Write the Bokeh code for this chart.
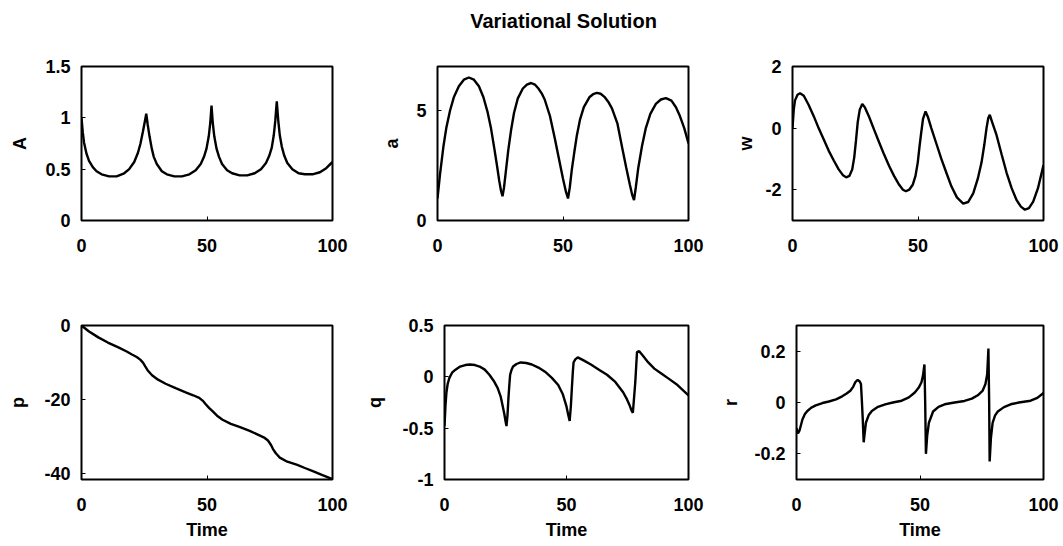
from bokeh.plotting import figure
from bokeh.layouts import column, row
from bokeh.models import Range1d, FixedTicker, CustomJSTickFormatter
from bokeh.core.properties import value
from bokeh.embed import file_html
from bokeh.resources import INLINE

FONT = "Liberation Sans"

title_text = "Variational Solution"
x_label = "Time"
x_ticks = [0, 50, 100]

# ---- data ----
A_t = [0, 0.5, 1, 2, 3, 4.5, 6, 8, 11, 14, 17, 19, 21, 22.5, 23.5, 24.5, 25.2, 25.8, 26.4, 27.1, 28, 28.8, 30, 32, 34,
       37, 40, 43, 45.5, 47.5, 48.8, 49.8, 50.7, 51.3, 51.8, 52.3, 52.9, 53.8, 54.8, 56, 58, 60, 63, 66, 69, 71.5,
       73.5, 74.8, 75.8, 76.6, 77.2, 77.8, 78.4, 79, 79.8, 80.8, 82, 84, 86.5, 89, 92, 95, 97.5, 100]
A_v = [1.00, 0.86, 0.76, 0.65, 0.58, 0.52, 0.48, 0.45, 0.43, 0.43, 0.46, 0.50, 0.57, 0.66, 0.75, 0.87, 0.96, 1.04, 0.93, 0.82, 0.70, 0.62, 0.55, 0.48, 0.45,
       0.43, 0.43, 0.45, 0.49, 0.55, 0.62, 0.70, 0.82, 0.95, 1.12, 0.95, 0.82, 0.70, 0.62, 0.55, 0.49, 0.46, 0.44, 0.44, 0.46, 0.50,
       0.56, 0.63, 0.71, 0.83, 0.97, 1.16, 0.97, 0.83, 0.72, 0.63, 0.56, 0.50, 0.46, 0.45, 0.45, 0.47, 0.51, 0.57]

a_t = [0, 1, 2.4, 3.5, 5, 6.5, 8.5, 10.5, 12.5, 14.5, 16.5, 18.3, 19.9, 21.3, 22.6, 23.7, 24.6, 25.3, 25.9, 26.5, 27.2,
       28.2, 29.3, 30.5, 32, 34, 35.6, 37.3, 38.8, 40.2, 41.5, 42.7, 44.8, 46.7, 48.4, 50, 51.2, 52, 52.7, 53.5, 54.5,
       55.5, 56.8, 58.3, 60.5, 62, 63.5, 65, 66.5, 68, 69.5, 71.7, 73.6, 75.2, 76.6, 77.6, 78.3, 79, 80, 81.5, 83, 84.8,
       87, 89, 91, 93.2, 95, 96.4, 98.3, 100]
a_v = [1.0, 2.1, 3.4, 4.2, 5.0, 5.6, 6.1, 6.4, 6.5, 6.4, 6.1, 5.6, 4.95, 4.2, 3.3, 2.5, 1.8, 1.35, 1.1, 1.5, 2.2,
       3.2, 4.1, 4.9, 5.55, 6.0, 6.18, 6.25, 6.18, 6.0, 5.78, 5.5, 4.75, 3.75, 2.8, 1.9, 1.3, 1.0, 1.5, 2.3, 3.1,
       3.85, 4.6, 5.15, 5.6, 5.74, 5.8, 5.76, 5.62, 5.4, 5.1, 4.4, 3.3, 2.4, 1.65, 1.15, 0.93, 1.5, 2.4, 3.4, 4.2, 4.85,
       5.3, 5.5, 5.56, 5.45, 5.15, 4.8, 4.2, 3.5]

w_t = [0, 0.5, 1, 2, 3, 4.5, 6.4, 8.5, 10.4, 12.5, 14.4, 16.5, 18.4, 20, 21.4, 22.7, 23.8, 24.6, 25.3, 26, 26.8,
       27.8, 28.8, 30.5, 32.5, 34.5, 36.5, 38.5, 40.5, 42.5, 44, 45.2, 46.5, 47.9, 49, 49.9, 50.6, 51.2, 52, 53, 54,
       55.3, 57.3, 59.3, 61.3, 63.3, 65.5, 68, 70, 72, 73.8, 75.3, 76.4, 77.3, 78, 78.6, 79.5, 81.3, 83.3, 85.3, 87.3,
       89.3, 91, 92.6, 94.2, 95.9, 97.8, 100]
w_v = [0.0, 0.6, 0.9, 1.08, 1.13, 1.05, 0.76, 0.38, 0.0, -0.38, -0.73, -1.06, -1.34, -1.52, -1.6, -1.55, -1.34, -0.95, -0.4, 0.2, 0.6,
       0.78, 0.68, 0.37, -0.05, -0.46, -0.86, -1.23, -1.56, -1.84, -2.0, -2.05, -2.0, -1.84, -1.55, -1.12, -0.6, -0.2, 0.3, 0.54, 0.35,
       0.0, -0.5, -1.0, -1.45, -1.89, -2.25, -2.45, -2.4, -2.12, -1.65, -1.12, -0.55, 0.0, 0.33, 0.43, 0.2, -0.23, -0.85, -1.45, -1.95,
       -2.34, -2.55, -2.65, -2.6, -2.39, -1.95, -1.2]

p_t = [0, 3, 6.7, 10.5, 14.7, 18, 20.1, 22, 23.4, 24.5, 25.4, 26.5, 28.1, 30.5, 33.5, 37.5, 41.5, 44.5, 46.9, 48.5,
       49.5, 50.8, 52.2, 54, 56.2, 59.5, 62.9, 67, 70.9, 73, 74.3, 75.5, 76.3, 77.5, 79, 82, 85.7, 89, 92.4, 96, 100]
p_v = [0, -1.6, -3.2, -4.6, -5.9, -7.0, -7.8, -8.5, -9.2, -10.0, -11.0, -12.2, -13.4, -14.6, -15.7, -16.9, -18.0, -18.8, -19.5, -20.4,
       -21.2, -22.2, -23.1, -24.3, -25.4, -26.5, -27.3, -28.4, -29.6, -30.3, -31.0, -32.2, -33.3, -34.5, -35.6, -36.7, -37.5, -38.4, -39.3, -40.3, -41.4]

q_t = [0, 0.4, 0.8, 1.3, 2, 3.1, 4.5, 6.4, 8.5, 10.4, 12.5, 14.4, 16.5, 18.4, 20.2, 21.8, 23, 23.8, 24.5, 25, 25.4,
       25.8, 26.2, 26.6, 26.9, 27.5, 28.1, 29.5, 31.2, 33.5, 35.8, 38.5, 41.2, 44, 46.6, 48.5, 49.9, 50.7, 51.3, 51.8,
       52.2, 52.6, 52.9, 53.6, 54.6, 57, 60, 63.3, 66.6, 70, 73.2, 74.8, 75.9, 76.7, 77.2, 77.7, 78.2, 78.6, 78.9, 79.8,
       81.5, 83.5, 86, 89, 92, 95.5, 100]
q_v = [-0.48, -0.28, -0.15, -0.07, -0.01, 0.04, 0.07, 0.10, 0.115, 0.12, 0.115, 0.10, 0.07, 0.02, -0.04, -0.11, -0.19, -0.28, -0.36, -0.43, -0.48,
       -0.38, -0.21, -0.07, 0.02, 0.07, 0.10, 0.125, 0.14, 0.135, 0.12, 0.09, 0.05, -0.01, -0.08, -0.17, -0.28, -0.37, -0.43, -0.28,
       -0.11, 0.05, 0.14, 0.17, 0.19, 0.16, 0.12, 0.07, 0.02, -0.05, -0.15, -0.22, -0.28, -0.33, -0.35, -0.2, -0.05, 0.12, 0.24, 0.25,
       0.20, 0.14, 0.08, 0.03, -0.02, -0.08, -0.18]

r_t = [0, 0.6, 1.2, 2.4, 3.4, 4.4, 6, 7.8, 10.5, 13.1, 16, 18.5, 20.3, 21.8, 23, 23.8, 24.8, 25.6, 26.1, 26.5, 26.8,
       27.2, 27.6, 28.1, 29.2, 30.5, 33, 35.9, 39, 42.6, 45.5, 47.9, 49.5, 50.6, 51.2, 51.8, 52.1, 52.4, 52.9, 53.6,
       55.3, 57.5, 60, 64, 68, 71, 73.4, 75.3, 76.5, 77.2, 77.7, 78.0, 78.2, 78.7, 79.4, 80.4, 81.5, 84, 86.7, 90, 94.8,
       97.5, 100]
r_v = [-0.10, -0.12, -0.11, -0.066, -0.045, -0.033, -0.02, -0.011, -0.002, 0.004, 0.012, 0.024, 0.035, 0.046, 0.062, 0.079, 0.088, 0.082, 0.072, 0.0, -0.06,
       -0.155, -0.12, -0.079, -0.05, -0.033, -0.017, -0.007, 0.0, 0.007, 0.02, 0.039, 0.058, 0.079, 0.105, 0.148, 0.0, -0.2, -0.13, -0.079,
       -0.035, -0.017, -0.007, 0.0, 0.006, 0.015, 0.028, 0.045, 0.072, 0.11, 0.21, 0.0, -0.23, -0.14, -0.079, -0.05, -0.035, -0.018, -0.007, 0.0, 0.007,
       0.018, 0.037]

panels = [
    dict(label="A", t=A_t, v=A_v, ylim=(0, 1.5), yticks=[0, 0.5, 1, 1.5], standoff=12),
    dict(label="a", t=a_t, v=a_v, ylim=(0, 7), yticks=[0, 5], standoff=11),
    dict(label="w", t=w_t, v=w_v, ylim=(-3, 2), yticks=[-2, 0, 2], standoff=6),
    dict(label="p", t=p_t, v=p_v, ylim=(-41.5, 0), yticks=[-40, -20, 0], standoff=13),
    dict(label="q", t=q_t, v=q_v, ylim=(-1, 0.5), yticks=[-1, -0.5, 0, 0.5], standoff=14),
    dict(label="r", t=r_t, v=r_v, ylim=(-0.3, 0.3), yticks=[-0.2, 0, 0.2], standoff=10),
]

# ---- layout geometry (pixels) ----
col_w = [362, 356, 344]
col_left = [81, 75, 74]
col_right = [30, 30, 19]
row_h = [238, 265]
row_top = [24, 45]
row_bottom = [60, 66]
TICK_FS = "18px"
LABEL_FS = "18px"


def style_axis(ax, ticks, standoff):
    ax.ticker = FixedTicker(ticks=ticks)
    ax.formatter = CustomJSTickFormatter(code="return tick.toString();")
    ax.major_label_text_font = FONT
    ax.major_label_text_font_style = "bold"
    ax.major_label_text_font_size = TICK_FS
    ax.major_label_text_color = "black"
    ax.major_label_standoff = standoff
    ax.major_tick_in = 4
    ax.major_tick_out = 0
    ax.major_tick_line_color = "black"
    ax.minor_tick_line_color = None
    ax.axis_line_color = None
    ax.axis_label_text_font = FONT
    ax.axis_label_text_font_style = "bold"
    ax.axis_label_text_font_size = LABEL_FS
    ax.axis_label_text_color = "black"


def make_panel(i, pan):
    r, c = divmod(i, 3)
    f = figure(width=col_w[c], height=row_h[r],
               x_range=Range1d(0, 100), y_range=Range1d(*pan["ylim"]),
               output_backend="svg", toolbar_location=None,
               min_border_left=col_left[c], min_border_right=col_right[c],
               min_border_top=row_top[r], min_border_bottom=row_bottom[r])
    f.line(pan["t"], pan["v"], line_color="black", line_width=2.4)
    f.grid.visible = False
    f.outline_line_color = "black"
    f.outline_line_width = 2
    f.background_fill_color = "white"
    f.border_fill_color = "white"
    style_axis(f.xaxis[0], x_ticks, 18)
    style_axis(f.yaxis[0], pan["yticks"], 11)
    f.yaxis[0].axis_label = pan["label"]
    f.yaxis[0].axis_label_standoff = pan["standoff"]
    if r == 1:
        f.xaxis[0].axis_label = x_label
        f.xaxis[0].axis_label_standoff = 6
    return f


figs = [make_panel(i, pan) for i, pan in enumerate(panels)]

tf = figure(width=1062, height=42, x_range=Range1d(0, 1062), y_range=Range1d(0, 42),
            output_backend="svg", toolbar_location=None, min_border=0)
tf.axis.visible = False
tf.grid.visible = False
tf.outline_line_color = None
tf.text(x=[563], y=[22], text=[title_text], text_font=value(FONT), text_font_style="bold",
        text_font_size="20px", text_align="center", text_baseline="middle", text_color="black")

layout = column(tf, row(*figs[:3]), row(*figs[3:]))

open("out.html", "w").write(file_html(layout, INLINE))
